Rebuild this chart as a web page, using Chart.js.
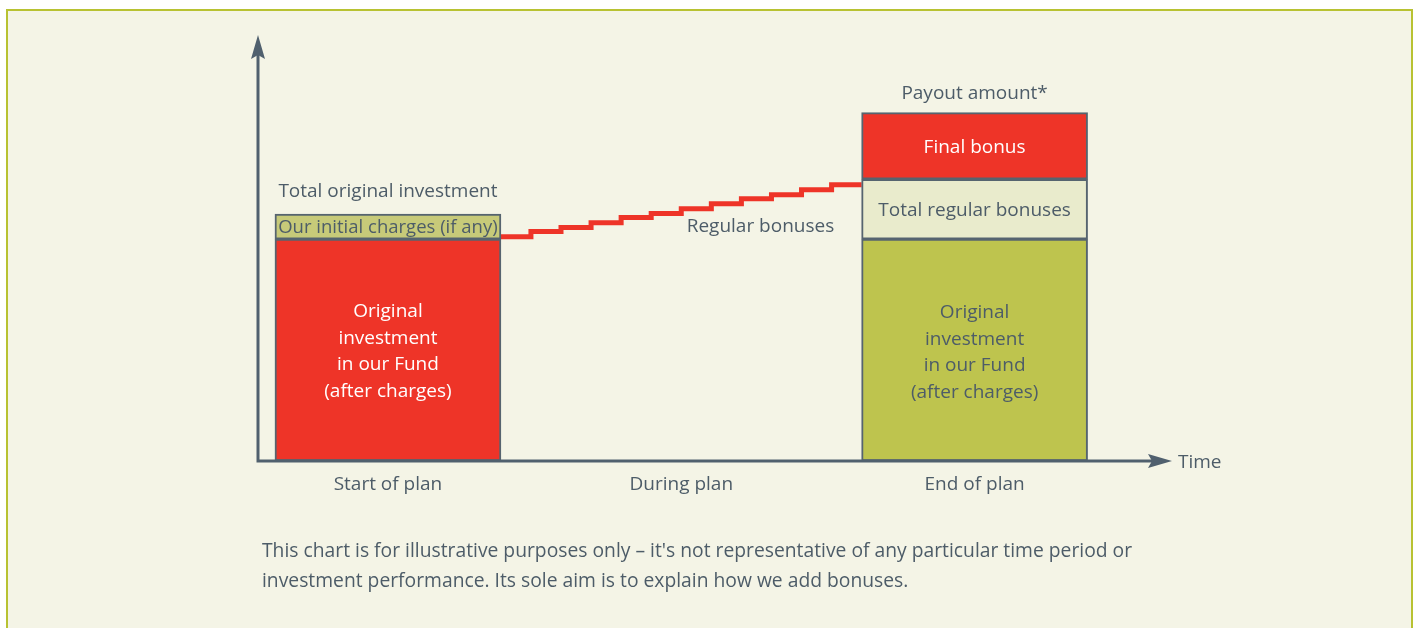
<!DOCTYPE html>
<html>
<head>
<meta charset="utf-8">
<script src="https://cdn.jsdelivr.net/npm/chart.js@4"></script>
<style>
  html, body { margin: 0; padding: 0; background: #ffffff; }
  #frame {
    position: absolute; left: 6px; top: 9px; width: 1403px; height: 640px;
    background: #f4f4e6; border: 2px solid #b8c232; border-bottom: none;
  }
  #wrap { position: absolute; left: 0; top: 0; width: 1416px; height: 628px; }
  #note {
    position: absolute; left: 262px; top: 535px; width: 1100px;
    font-family: 'Open Sans', sans-serif; font-size: 19.3px; line-height: 30px; color: #4d5c68;
  }
</style>
</head>
<body>
<div id="frame"></div>
<div id="wrap"><canvas id="chart" width="1416" height="628"></canvas></div>
<div id="note">This chart is for illustrative purposes only – it's not representative of any particular time period or<br>investment performance. Its sole aim is to explain how we add bonuses.</div>
<script>
// stages along the time axis
const categories = ['Start of plan', 'During plan', 'End of plan'];
const stageX = [1, 2, 3];

// start of plan (share of original investment = 100)
const startInvestment = 100;
const initialCharges = 11.3;

// end of plan
const endInvestment = 100;
const totalRegularBonuses = 27;
const finalBonus = 30;

// yearly regular bonuses added during the plan (running value)
const regularBonusSteps = [101.1, 103.4, 105.2, 107.4, 109.7, 111.5, 113.7, 116.0, 118.2, 120.0, 122.3, 124.5];

const RED = '#ee3428';
const OLIVE = '#bec44e';
const CHARGE = '#c7ca79';
const PALE = '#e9ebcc';
const SLATE = '#4d5c68';
const AXIS = '#50606e';
const FONT = "'Open Sans', sans-serif";

const BAR_PX = 226;               // bar thickness in pixels
const HALF_BAR = 0.385;           // half a bar, in stage units

// staircase runs from the right edge of the first bar to the left edge of the last bar
const stairStart = stageX[0] + HALF_BAR;
const stairEnd = stageX[2] - HALF_BAR;
const stairW = (stairEnd - stairStart) / regularBonusSteps.length;
const stairData = regularBonusSteps.map((v, i) => ({ x: stairStart + i * stairW, y: v }));
stairData.push({ x: stairEnd, y: regularBonusSteps[regularBonusSteps.length - 1] });

function seg(x, lo, hi) { return [{ x: x, y: [lo, hi] }]; }

const barStyle = {
  type: 'bar', grouped: false, borderColor: '#56646f', borderWidth: 2, borderSkipped: false,
  barThickness: BAR_PX
};

// text labels anchored to data values
const labelPlugin = {
  id: 'labels',
  afterDraw: chart => {
    const { ctx, scales: { x, y } } = chart;
    ctx.save();
    ctx.textAlign = 'center';
    ctx.textBaseline = 'middle';
    const txt = (s, px, py, col, size) => {
      ctx.font = (size || 19) + 'px ' + FONT;
      ctx.fillStyle = col; ctx.fillText(s, px, py + 1.5);
    };
    const lines = (arr, px, pyMid, col, lh) => {
      arr.forEach((s, i) => txt(s, px, pyMid + (i - (arr.length - 1) / 2) * lh, col));
    };
    const x0 = x.getPixelForValue(stageX[0]);
    const x2 = x.getPixelForValue(stageX[2]);
    const startTop = startInvestment + initialCharges;
    const endTop = endInvestment + totalRegularBonuses + finalBonus;

    txt('Total original investment', x0, y.getPixelForValue(startTop) - 24, SLATE);
    txt('Our initial charges (if any)', x0, y.getPixelForValue(startInvestment + initialCharges / 2), SLATE, 18.5);
    const body = ['Original', 'investment', 'in our Fund', '(after charges)'];
    lines(body, x0, y.getPixelForValue(startInvestment / 2), '#ffffff', 26.5);

    txt('Regular bonuses', x.getPixelForValue(2.27), y.getPixelForValue(106.3), SLATE);

    txt('Payout amount*', x2, y.getPixelForValue(endTop) - 21, SLATE);
    txt('Final bonus', x2, y.getPixelForValue(endInvestment + totalRegularBonuses + finalBonus / 2), '#ffffff');
    txt('Total regular bonuses', x2, y.getPixelForValue(endInvestment + totalRegularBonuses / 2), SLATE);
    lines(body, x2, y.getPixelForValue(endInvestment / 2) + 1, SLATE, 26.5);

    const by = y.getPixelForValue(0) + 22;
    categories.forEach((c, i) => txt(c, x.getPixelForValue(stageX[i]), by, SLATE));

    ctx.textAlign = 'left';
    txt('Time', x.right + 6, y.getPixelForValue(0), SLATE);
    ctx.restore();
  }
};

// axes with arrow heads
const axesPlugin = {
  id: 'arrowAxes',
  afterDatasetsDraw: chart => {
    const { ctx, chartArea: { left, right, top, bottom } } = chart;
    ctx.save();
    ctx.strokeStyle = AXIS;
    ctx.fillStyle = AXIS;
    ctx.lineWidth = 3;
    ctx.beginPath();
    ctx.moveTo(left, top + 12); ctx.lineTo(left, bottom); ctx.lineTo(right - 12, bottom);
    ctx.stroke();
    // y arrow
    ctx.beginPath();
    ctx.moveTo(left, top); ctx.lineTo(left + 7, top + 24); ctx.lineTo(left, top + 20); ctx.lineTo(left - 7, top + 24);
    ctx.closePath(); ctx.fill();
    // x arrow
    ctx.beginPath();
    ctx.moveTo(right, bottom); ctx.lineTo(right - 24, bottom - 7); ctx.lineTo(right - 20, bottom); ctx.lineTo(right - 24, bottom + 7);
    ctx.closePath(); ctx.fill();
    ctx.restore();
  }
};

new Chart(document.getElementById('chart').getContext('2d'), {
  type: 'bar',
  data: {
    datasets: [
      { ...barStyle, label: 'Original investment (start)', data: seg(stageX[0], 0, startInvestment), backgroundColor: RED },
      { ...barStyle, label: 'Our initial charges', data: seg(stageX[0], startInvestment, startInvestment + initialCharges), backgroundColor: CHARGE },
      { ...barStyle, label: 'Original investment (end)', data: seg(stageX[2], 0, endInvestment), backgroundColor: OLIVE },
      { ...barStyle, label: 'Total regular bonuses', data: seg(stageX[2], endInvestment, endInvestment + totalRegularBonuses), backgroundColor: PALE },
      { ...barStyle, label: 'Final bonus', data: seg(stageX[2], endInvestment + totalRegularBonuses, endInvestment + totalRegularBonuses + finalBonus), backgroundColor: RED },
      {
        type: 'line', label: 'Regular bonuses', data: stairData, stepped: 'before',
        borderColor: RED, borderWidth: 5, pointRadius: 0, fill: false
      }
    ]
  },
  options: {
    responsive: false,
    animation: false,
    layout: { padding: { left: 258, right: 244, top: 35, bottom: 167 } },
    plugins: { legend: { display: false }, tooltip: { enabled: false } },
    scales: {
      x: { type: 'linear', display: false, min: 0.557, max: 3.673, offset: false },
      y: { display: false, min: 0, max: 192 }
    }
  },
  plugins: [axesPlugin, labelPlugin]
});
</script>
</body>
</html>
